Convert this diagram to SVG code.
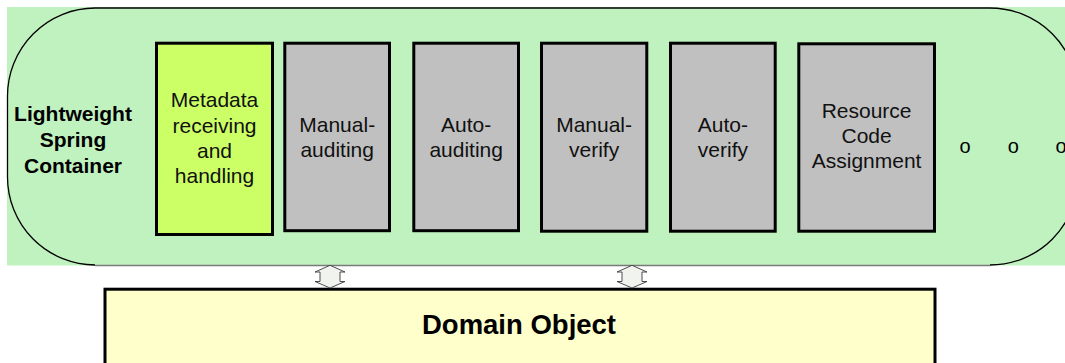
<svg xmlns="http://www.w3.org/2000/svg" width="1065" height="363" viewBox="0 0 1065 363">
  <style>
    .stage { fill: #c0f2c0; }
    .rim { fill: none; stroke: #000; stroke-width: 1.3; }
    .rim-base { fill: none; stroke: #7a7a7a; stroke-width: 1.5; }
    .step { stroke: #000; stroke-width: 3; }
    .gray { fill: #c0c0c0; }
    .lime { fill: #ccff66; }
    .domain { fill: #ffffcc; stroke: #000; stroke-width: 3; }
    .lbl { font-family: "Liberation Sans", Arial, sans-serif; font-size: 21px; fill: #111; text-anchor: middle; }
    .bold { font-family: "Liberation Sans", Arial, sans-serif; font-weight: bold; fill: #000; text-anchor: middle; }
    .dot { font-family: "Liberation Sans", Arial, sans-serif; font-size: 20px; fill: #000; text-anchor: middle; }
    .link { fill: #f1f3ee; stroke: #3a3a3a; stroke-width: 0.9; stroke-linejoin: miter; }
  </style>

  <rect width="1065" height="363" fill="#ffffff"/>

  <!-- container: green band with a rounded (stadium) outline -->
  <g id="container">
    <rect class="stage" x="7" y="7" width="1058" height="258.5"/>
    <path class="rim" d="M95,8 H990 A88,88 0 0 1 1078,96 V177 A88,88 0 0 1 990,265 M95,265 A88,88 0 0 1 7.5,177 V96 A88,88 0 0 1 95,8"/>
    <line class="rim-base" x1="95" y1="265.5" x2="990" y2="265.5"/>
    <text class="bold" font-size="21" x="73" y="120.7">Lightweight</text>
    <text class="bold" font-size="21" x="73" y="146.7">Spring</text>
    <text class="bold" font-size="21" x="73" y="172.7">Container</text>
  </g>

  <g id="metadata">
    <rect class="step lime" x="156.5" y="43.2" width="116" height="191.3"/>
    <text class="lbl" x="214.5" y="107">Metadata</text>
    <text class="lbl" x="214.5" y="132.5">receiving</text>
    <text class="lbl" x="214.5" y="158">and</text>
    <text class="lbl" x="214.5" y="183.3">handling</text>
  </g>

  <g id="manual-auditing">
    <rect class="step gray" x="284.8" y="43.2" width="104.7" height="187.5"/>
    <text class="lbl" x="337.2" y="131.7">Manual-</text>
    <text class="lbl" x="337.2" y="156.5">auditing</text>
  </g>

  <g id="auto-auditing">
    <rect class="step gray" x="413.8" y="43.2" width="104.7" height="187.5"/>
    <text class="lbl" x="466.2" y="131.7">Auto-</text>
    <text class="lbl" x="466.2" y="156.5">auditing</text>
  </g>

  <g id="manual-verify">
    <rect class="step gray" x="541.5" y="43.2" width="105.3" height="188"/>
    <text class="lbl" x="594.1" y="131.7">Manual-</text>
    <text class="lbl" x="594.1" y="156.5">verify</text>
  </g>

  <g id="auto-verify">
    <rect class="step gray" x="670.5" y="43.2" width="104.7" height="188"/>
    <text class="lbl" x="722.9" y="131.7">Auto-</text>
    <text class="lbl" x="722.9" y="156.5">verify</text>
  </g>

  <g id="resource-code">
    <rect class="step gray" x="798.8" y="43.8" width="135.7" height="187.4"/>
    <text class="lbl" x="866.6" y="118.3">Resource</text>
    <text class="lbl" x="866.6" y="143.3">Code</text>
    <text class="lbl" x="866.6" y="168.3">Assignment</text>
  </g>

  <g id="more">
    <text class="dot" x="965" y="152.5">o</text>
    <text class="dot" x="1013.3" y="152.5">o</text>
    <text class="dot" x="1061" y="152.5">o</text>
  </g>

  <g id="domain-object">
    <rect class="domain" x="105" y="289.2" width="830" height="90"/>
    <text class="bold" font-size="27.5" x="519" y="334.3">Domain Object</text>
  </g>

  <!-- two-way links between the container and the domain layer -->
  <g id="connectors">
    <path class="link" d="M330,265.3 L345,272 L340,272 L340,281.5 L345,281.5 L330,288 L315,281.5 L320,281.5 L320,272 L315,272 Z"/>
    <path class="link" d="M632,265.3 L647,272 L642,272 L642,281.5 L647,281.5 L632,288 L617,281.5 L622,281.5 L622,272 L617,272 Z"/>
  </g>
</svg>
